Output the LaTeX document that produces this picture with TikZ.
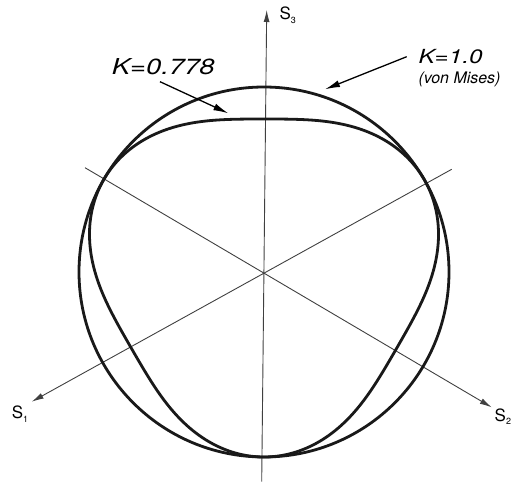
\documentclass[tikz,border=0pt]{standalone}
\usepackage{fontspec}
\newfontfamily\hvfont{TeX Gyre Heros}
\newfontfamily\hvwide[FakeStretch=1.25]{TeX Gyre Heros}
\usetikzlibrary{arrows.meta}

\begin{document}
\begin{tikzpicture}[x=1bp, y=1bp,
    axis/.style={line width=0.9bp, black!75, -{Latex[length=12bp,width=6bp]}},
    pointer/.style={line width=1.3bp, -{Latex[length=15bp,width=7bp]}},
    curve/.style={line width=2.8bp, black!90},
    axlabel/.style={font=\hvfont\fontsize{17}{17}\selectfont, inner sep=0pt, anchor=base west}]
  \useasboundingbox (-264,-213) rectangle (249,272);

  \coordinate (O) at (0,0);

  % axes
  \coordinate (s3a) at (-2.3,-209.7);
  \coordinate (s3b) at (2.7,262);
  \coordinate (s1a) at (187.7,102.7);
  \coordinate (s1b) at (-232.3,-129.7);
  \coordinate (s2a) at (-179,104.3);
  \coordinate (s2b) at (227.7,-135.3);
  \draw[axis] (s3a) -- (s3b);
  \draw[axis] (s1a) -- (s1b);
  \draw[axis] (s2a) -- (s2b);

  \node[axlabel] (s3) at (15.3,252) {S\raisebox{-0.45ex}{\fontsize{9}{9}\selectfont 3}};
  \node[axlabel] (s1) at (-252.3,-146.3) {S\raisebox{-0.45ex}{\fontsize{9}{9}\selectfont 1}};
  \node[axlabel] (s2) at (230.5,-149) {S\raisebox{-0.45ex}{\fontsize{9}{9}\selectfont 2}};

  % von Mises circle and K=0.778 surface
  \draw[curve] (O) circle (185);
  \draw[curve] plot[domain=0:358, samples=180, smooth cycle, variable=\t]
    ({(169+16*sin(3*\t))*cos(\t)}, {(169+16*sin(3*\t))*sin(\t)});

  % labels
  \node[inner sep=0pt, anchor=base west, font=\hvwide\itshape\fontsize{22}{22}\selectfont] (kin) at (-152.3,197) {K=0.778};
  \node[inner sep=0pt, anchor=base west, font=\hvwide\itshape\fontsize{19.5}{19.5}\selectfont] (kvm) at (154.3,208) {K=1.0};
  \node[inner sep=0pt, anchor=base west, font=\hvfont\itshape\fontsize{16}{16}\selectfont] (vm) at (154.3,188.7) {(von Mises)};

  \coordinate (kin-to) at (-35.7,158.7);
  \coordinate (kvm-to) at (61,182.7);
  \draw[pointer] (-104,190.3) -- (kin-to);
  \draw[pointer] (142.7,215.3) -- (kvm-to);
\end{tikzpicture}
\end{document}
